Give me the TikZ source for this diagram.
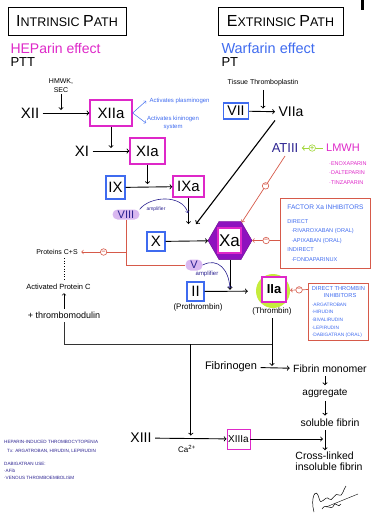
\documentclass[tikz,border=0pt]{standalone}
\usepackage{fontspec}
\setmainfont{Liberation Sans}
\usepackage{xcolor}
\usepackage{tikz}
\usetikzlibrary{shapes.geometric}
\definecolor{magentaink}{HTML}{DE28C8}
\definecolor{blueink}{HTML}{3F6BEF}
\definecolor{navyink}{HTML}{2B2290}
\definecolor{redink}{HTML}{D65A4A}
\definecolor{purpleink}{HTML}{8E12BE}
\definecolor{lilacink}{HTML}{D9B8F0}
\definecolor{limeink}{HTML}{C6EC3C}
\definecolor{greenink}{HTML}{A2D63A}
\newcommand{\fsz}[1]{\fontsize{#1}{#1}\selectfont}
\tikzset{titlebox/.style={draw,line width=1pt,minimum height=28pt,inner sep=0pt,font=\fsz{12.5}},
         magbox/.style={draw=magentaink,line width=1.3pt,inner sep=2pt,font=\fsz{15}},
         bluebox/.style={draw=blueink,line width=1.3pt,inner sep=2pt,font=\fsz{15}},
         redbox/.style={draw=redink,line width=0.8pt,text=blueink,align=left,anchor=north west},
         pill/.style={rounded corners=5pt,fill=lilacink,inner sep=0pt,text=navyink},
         arr/.style={->,line width=0.9pt},
         amp/.style={->,draw=navyink,line width=0.6pt},
         redline/.style={draw=redink,line width=0.7pt},
         inh/.style={->,draw=redink,line width=0.7pt},
         minuscirc/.style={circle,draw=redink,fill=white,inner sep=0pt,minimum size=6.5pt,
                           line width=0.6pt,text=redink,font=\fsz{7}\bfseries},
         pluscirc/.style={circle,draw=greenink,fill=white,inner sep=0pt,minimum size=6.5pt,
                          line width=0.6pt,text=greenink,font=\fsz{7}\bfseries}}
\begin{document}
\begin{tikzpicture}[x=1pt,y=-1pt]
\useasboundingbox (0,0) rectangle (373,517);
\fill (361,0) rectangle (364,10);

\node[titlebox,minimum width=118pt] (intr) at (67,21) {{\fsz{16}I}NTRINSIC {\fsz{16}P}ATH};
\node[anchor=west,text=magentaink,font=\fsz{14}] (hep) at (7,48) {HEParin effect};
\node[anchor=west,font=\fsz{13}] (ptt) at (7,62) {PTT};
\node[titlebox,minimum width=125pt] (extr) at (280.5,21.5) {{\fsz{16}E}XTRINSIC {\fsz{16}P}ATH};
\node[anchor=west,text=blueink,font=\fsz{14.5}] (warf) at (218,48) {Warfarin effect};
\node[anchor=west,font=\fsz{13}] (pt) at (218,62) {PT};

\node[align=center,font=\fontsize{7}{9}\selectfont,inner sep=1pt] (hmwk) at (61,86) {HMWK,\\SEC};
\node[font=\fsz{15}] (xii) at (30,113) {XII};
\node[magbox,minimum width=42pt,minimum height=26pt] (xiia) at (111,113) {XIIa};
\draw[arr] (xii) -- coordinate (m1) (xiia);
\draw[arr,shorten >=3pt] (hmwk) -- (hmwk |- m1);
\node[anchor=west,text=blueink,font=\fsz{6}] (plasm) at (146,101) {Activates plasminogen};
\node[anchor=west,align=center,text=blueink,font=\fontsize{6}{8}\selectfont,inner sep=1pt] (kinin) at (146,123) {Activates kininogen\\system};
\draw[->,blueink,line width=0.5pt] (xiia.east) -- (plasm.west);
\draw[->,blueink,line width=0.5pt] (xiia.east) -- (kinin.west);

\node[font=\fsz{15}] (xi) at (82,151) {XI};
\node[magbox,minimum width=35pt,minimum height=26pt] (xia) at (147.5,151) {XIa};
\draw[arr] (xi) -- coordinate (m2) (xia);
\draw[arr,shorten >=3pt] (xiia) -- (xiia |- m2);

\node[bluebox,minimum width=19pt,minimum height=23pt] (ix) at (115.5,187.5) {IX};
\node[magbox,minimum width=31pt,minimum height=21pt] (ixa) at (188.5,186.5) {IXa};
\draw[arr] (ix) -- coordinate (m3) (ixa);
\draw[arr,shorten >=3pt] (xia) -- (xia |- m3);

\node[bluebox,minimum width=25pt,minimum height=16pt,font=\fsz{14}] (vii) at (236,111) {VII};
\node[font=\fsz{14}] (viia) at (291,112) {VIIa};
\draw[arr] (vii) -- coordinate (m5) (viia);
\node[font=\fsz{7}] (tiss) at (263,83) {Tissue Thromboplastin};
\draw[arr,shorten >=3pt] (tiss) -- (tiss |- m5);

\coordinate (cvg) at (196,224);
\coordinate (viiiend) at (188,213);
\draw[arr] (ixa) -- (ixa |- cvg);
\draw[arr,line width=1.1pt] (viia.south west) -- (cvg);

\node[pill,minimum width=27pt,minimum height=10pt,font=\fsz{11}] (viii) at (126,214.5) {VIII};
\node[text=navyink,font=\fsz{5}] (ampviii) at (156,209.5) {amplifier};
\draw[amp] (viii.north east) .. controls (150,196) and (182,194) .. (viiiend);

\node[bluebox,minimum width=18pt,minimum height=19pt] (fx) at (156,241.5) {X};
\node[regular polygon,regular polygon sides=6,minimum size=44pt,inner sep=0pt,
      fill=purpleink,draw=purpleink!75!black] (fxa) at (230,240.5) {};
\node[draw=magentaink,line width=1.2pt,fill=white,minimum width=23pt,minimum height=25pt,
      inner sep=1pt,font=\fsz{17}] (fxabox) at (229.5,240.5) {Xa};
\draw[arr] (fx) -- (fxa);

\node[text=navyink,font=\fsz{13}] (atiii) at (285,148) {ATIII};
\node[text=magentaink,font=\fsz{11}] (lmwh) at (343,148) {LMWH};
\draw[->,draw=greenink,line width=1pt] (lmwh) -- node[pluscirc] {+} (atiii);
\node[anchor=north west,align=left,text=magentaink,font=\fontsize{5.5}{9.5}\selectfont,inner sep=0pt] (lmwhlist) at (329,161)
  {·ENOXAPARIN\\·DALTEPARIN\\·TINZAPARIN};
\draw[inh] (atiii.south) -- node[minuscirc,pos=0.45] {–} (fxa);

\node[redbox,minimum width=90pt,minimum height=70pt,inner xsep=5pt,font=\fontsize{5.6}{9.5}\selectfont] (xainh) at (280,198)
  {{\fontsize{6.6}{9.5}\selectfont FACTOR Xa INHIBITORS}\\[4pt]
   DIRECT\\
   \hspace*{4pt}·RIVAROXABAN (ORAL)\\
   \hspace*{4pt}·APIXABAN (ORAL)\\
   INDIRECT\\
   \hspace*{4pt}·FONDAPARINUX};
\draw[inh] (xainh.west |- fxa) -- node[minuscirc] {–} (fxa);

\node[bluebox,minimum width=17pt,minimum height=19pt] (fii) at (195.5,291.5) {II};
\node[font=\fsz{8}] (proth) at (198,307.5) {(Prothrombin)};
\node[circle,fill=limeink,minimum size=34pt] (iiaring) at (273,291) {};
\node[magbox,fill=white,minimum width=24pt,minimum height=25pt,font=\fsz{13}\bfseries] (fiia) at (274,289.5) {IIa};
\node[font=\fsz{8}] (thromb) at (272,311) {(Thrombin)};
\draw[arr,shorten >=8pt] (fii) -- coordinate (m6) (iiaring);
\draw[arr,shorten >=1.5pt] (fxa) -- (fxa |- m6);

\node[pill,minimum width=17pt,minimum height=11pt,font=\fsz{11}] (fv) at (194,265) {V};
\node[text=navyink,font=\fsz{6}] (ampv) at (207,274) {amplifier};
\draw[amp,shorten >=3pt] (fv.east) .. controls (218,257) and (229,270) .. (fxa |- m6);

\node[redbox,minimum width=60pt,minimum height=57pt,inner xsep=3pt,inner ysep=2pt,font=\fontsize{4.8}{7.6}\selectfont] (dti) at (308,283)
  {{\fontsize{5.7}{8}\selectfont DIRECT THROMBIN}\\
   {\fontsize{5.7}{8}\selectfont\hspace*{12pt}INHIBITORS}\\[1pt]
   ·ARGATROBAN\\
   ·HIRUDIN\\
   ·BIVALIRUDIN\\
   ·LEPIRUDIN\\
   ·DABIGATRAN (ORAL)};
\draw[inh] (dti.west |- fiia) -- node[minuscirc] {–} (iiaring);

\node[font=\fsz{7}] (proteins) at (57,252) {Proteins C+S};
\draw[redline] (viii.south) |- (fv.west);
\draw[inh] (viii.south |- proteins) -- node[minuscirc] {–} (proteins.east);
\node[font=\fsz{7.5}] (apc) at (58.5,287) {Activated Protein C};
\node[font=\fsz{9}] (tmod) at (64,315.5) {+ thrombomodulin};
\draw[dotted,line width=0.6pt] (proteins.south -| tmod) -- (apc.north -| tmod);
\draw[->,line width=0.6pt] (tmod.north) -- (apc.south -| tmod);

\node[font=\fsz{11}] (fibg) at (231,367) {Fibrinogen};
\node[font=\fsz{10.5}] (fibm) at (330,369) {Fibrin monomer};
\draw[arr] (fibg) -- coordinate (m7) (fibm);
\coordinate (jn) at (273,344);
\draw[line width=0.8pt,draw=black!80] (tmod.south) |- (jn);
\draw[arr,shorten >=2pt] (thromb) -- (thromb |- m7);

\node[font=\fsz{10}] (agg) at (325,393) {aggregate};
\node[font=\fsz{10.5}] (solf) at (330,423) {soluble fibrin};
\node[align=left,font=\fontsize{10.5}{11.5}\selectfont,inner sep=1pt] (xlink) at (329,461) {Cross-linked\\ insoluble fibrin};
\draw[arr] (fibm.south -| agg) -- (agg.north);
\draw[arr] (agg.south) -- (agg.south |- solf.north);
\draw[arr] (solf.south -| agg) -- coordinate (m9) (xlink.north -| agg);

\node[font=\fsz{14}] (xiii) at (141,438) {XIII};
\node[magbox,line width=0.9pt,minimum width=23pt,minimum height=20pt,inner sep=1pt,font=\fsz{10}] (xiiia) at (238.5,439) {XIIIa};
\draw[arr] (xiii) -- coordinate (m8) (xiiia);
\draw[arr,shorten >=3pt] (m8 |- jn) -- (m8);
\node[font=\fsz{8}] (ca) at (187,449) {Ca\textsuperscript{2+}};
\draw[arr,shorten >=2pt] (xiiia) -- (xiiia -| m9);

\node[anchor=west,align=left,text=navyink,font=\fontsize{4.6}{9}\selectfont,inner sep=0pt] (hitnote) at (4,446.5)
  {HEPARIN-INDUCED THROMBOCYTOPENIA\\\hspace*{3pt}Tx: ARGATROBAN, HIRUDIN, LEPIRUDIN};
\node[anchor=north west,align=left,text=navyink,font=\fontsize{4.6}{7}\selectfont,inner sep=0pt] (dabnote) at (4,462)
  {DABIGATRAN USE:\\·AFib\\·VENOUS THROMBOEMBOLISM};

\draw[line width=0.5pt] (314,512) .. controls (310,498) and (316,486) .. (319,498)
  .. controls (321,508) and (325,494) .. (329,499) .. controls (332,503) and (335,491) .. (339,495)
  .. controls (342,498) and (344,488) .. (346,486);
\draw[line width=0.5pt] (322,509) .. controls (326,502) and (331,512) .. (334,505)
  .. controls (336,501) and (338,509) .. (341,504);
\draw[line width=0.4pt] (326,507) -- (358,494);
\end{tikzpicture}
\end{document}
